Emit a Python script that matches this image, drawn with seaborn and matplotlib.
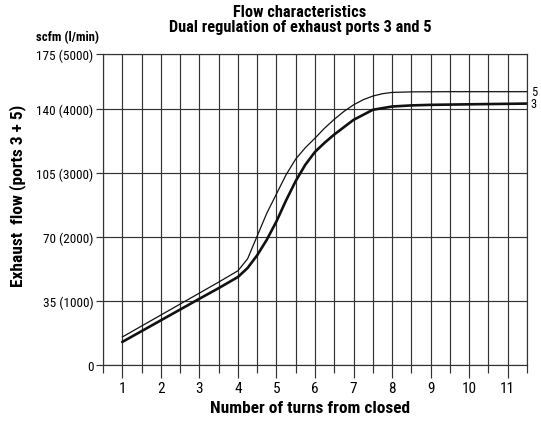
import matplotlib
matplotlib.use("Agg")
import matplotlib.pyplot as plt
from matplotlib import font_manager
from matplotlib import patheffects
from matplotlib.ticker import MultipleLocator, FixedLocator
import pandas as pd
import seaborn as sns

# Flow (scfm) versus turns of the regulating screw, for each exhaust port
turns_port5 = [1.0, 2.0, 3.0, 3.5, 4.0, 4.25, 4.5, 4.75, 5.0, 5.25, 5.5, 5.75,
               6.0, 6.25, 6.5, 6.75, 7.0, 7.25, 7.5, 7.75, 8.0, 8.5, 9.5, 10.5, 11.5]
flow_port5 = [15.3, 27.3, 39.3, 45.3, 51.5, 58.0, 70.5, 83.0, 93.5, 104.0, 112.6, 118.8,
              124.0, 129.5, 134.3, 138.6, 142.2, 145.0, 147.0, 148.3, 149.0, 149.3, 149.4, 149.4, 149.4]

turns_port3 = [1.0, 2.0, 3.0, 3.5, 4.0, 4.25, 4.5, 4.75, 5.0, 5.25, 5.5, 5.75,
               6.0, 6.25, 6.5, 7.0, 7.5, 8.0, 8.5, 9.0, 10.0, 11.5]
flow_port3 = [12.6, 24.4, 36.2, 42.0, 48.1, 53.0, 60.0, 68.5, 78.5, 90.0, 100.6, 109.5,
              116.5, 121.5, 126.0, 134.0, 139.5, 141.3, 141.9, 142.2, 142.5, 142.9]

port_labels = ["5", "3"]

# The printed scale squeezes its top band: the "175" line sits at 170 on the flow axis
y_ticks = [0, 35, 70, 105, 140, 170]
y_tick_labels = ["0", "35 (1000)", "70 (2000)", "105 (3000)", "140 (4000)", "175 (5000)"]
x_ticks = list(range(1, 12))

title_text = "Flow characteristics\nDual regulation of exhaust ports 3 and 5"
unit_text = "scfm (l/min)"
x_label = "Number of turns from closed"
y_label = "Exhaust  flow (ports 3 + 5)"

df = pd.concat([
    pd.DataFrame({"turns": turns_port5, "flow": flow_port5, "port": "5"}),
    pd.DataFrame({"turns": turns_port3, "flow": flow_port3, "port": "3"}),
])

sns.set_theme(style="white")


def weight_value(w):
    if isinstance(w, (int, float)):
        return int(w)
    return font_manager.weight_dict.get(str(w).lower(), 400)


# Prefer a narrow sans face that ships with a bold weight
fonts = font_manager.fontManager.ttflist
narrow_weights = {}
for f in fonts:
    if "Narrow" in f.name or "Condensed" in f.name:
        narrow_weights.setdefault(f.name, set()).add(weight_value(f.weight))
preferred = ["Liberation Sans Narrow", "Roboto Condensed", "Open Sans Condensed",
             "Noto Sans Condensed", "DejaVu Sans Condensed"]
ordered = [n for n in preferred if n in narrow_weights] + sorted(n for n in narrow_weights if n not in preferred)
with_bold = [n for n in ordered if max(narrow_weights[n]) >= 600]
if with_bold:
    family, fake_bold = with_bold[0], False
elif ordered:
    family, fake_bold = ordered[0], True
else:
    family, fake_bold = "Liberation Sans", False
plt.rcParams["font.family"] = [family, "DejaVu Sans"]

for key in ["text.color", "axes.labelcolor", "xtick.color", "ytick.color"]:
    plt.rcParams[key] = "black"


def bold_kw():
    if fake_bold:
        return {"path_effects": [patheffects.withStroke(linewidth=0.7, foreground="black")]}
    return {"fontweight": "bold"}


W, H, DPI = 541, 427, 100
fig = plt.figure(figsize=(W / DPI, H / DPI), dpi=DPI)
ax = fig.add_axes([103 / W, 1 - 366 / H, (527 - 103) / W, (366 - 55) / H])

sns.lineplot(data=df, x="turns", y="flow", hue="port", hue_order=port_labels,
             palette={"5": "#111111", "3": "#111111"}, size="port",
             sizes={"5": 0.9, "3": 1.9}, legend=False, sort=True, ax=ax, zorder=3)

ax.set_xlim(0.5, 11.5)
ax.set_ylim(0, 170)

grid_color = "#333333"
ax.xaxis.set_major_locator(FixedLocator(x_ticks))
ax.xaxis.set_minor_locator(MultipleLocator(0.5))
ax.set_yticks(y_ticks)
ax.set_yticklabels(y_tick_labels)
ax.grid(True, which="both", axis="x", color=grid_color, lw=0.85)
ax.grid(True, which="major", axis="y", color=grid_color, lw=0.85)

for side in ["left", "right", "bottom", "top"]:
    ax.spines[side].set_visible(True)
    ax.spines[side].set_color(grid_color)
    ax.spines[side].set_linewidth(0.85)

ax.tick_params(axis="x", which="major", direction="out", length=9.5, width=0.85,
               color=grid_color, labelsize=11, pad=2, bottom=True)
ax.tick_params(axis="x", which="minor", direction="out", length=5.5, width=0.85,
               color=grid_color, bottom=True)
ax.tick_params(axis="y", which="major", direction="out", length=5, width=0.85,
               color=grid_color, labelsize=9.5, pad=2, left=True)

ax.set_xlabel("")
ax.set_ylabel("")
fig.text(310 / W, 1 - 409 / H, x_label, ha="center", va="center", fontsize=12.5, **bold_kw())
fig.text(18 / W, 1 - 196 / H, y_label, rotation=90, ha="center", va="center",
         fontsize=12.5, **bold_kw())

fig.text(300 / W, 1 - 20 / H, title_text, ha="center", va="center",
         fontsize=11.8, linespacing=1.0, **bold_kw())
fig.text(36 / W, 1 - 38 / H, unit_text, ha="left", va="center", fontsize=9.2, **bold_kw())

# Port labels at the right-hand end of each curve
for port, series in zip(port_labels, [flow_port5, flow_port3]):
    ax.text(11.6, series[-1], port, ha="left", va="center", fontsize=9, clip_on=False)

fig.savefig("out.png", dpi=DPI)
